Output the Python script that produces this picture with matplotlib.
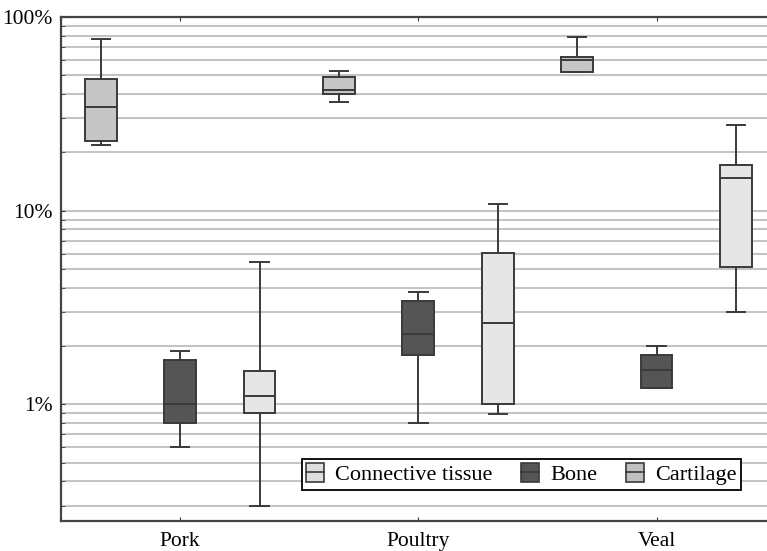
import matplotlib
matplotlib.use("Agg")
import matplotlib.pyplot as plt
from matplotlib.patches import Patch
from matplotlib.lines import Line2D
from matplotlib.ticker import LogLocator, FuncFormatter, NullFormatter

plt.rcParams["font.family"] = ["Liberation Serif", "DejaVu Serif"]

meats = ["Pork", "Poultry", "Veal"]
tissues = ["Connective tissue", "Bone", "Cartilage"]

# box statistics in percent, one list per tissue, ordered Pork / Poultry / Veal
connective_whislo = [21.8, 36.2, 51.8]
connective_q1     = [22.8, 40.0, 51.8]
connective_med    = [34.5, 42.1, 59.9]
connective_q3     = [47.6, 48.8, 62.4]
connective_whishi = [76.7, 52.8, 78.8]

bone_whislo = [0.60, 0.80, 1.21]
bone_q1     = [0.80, 1.80, 1.21]
bone_med    = [1.00, 2.30, 1.50]
bone_q3     = [1.70, 3.42, 1.79]
bone_whishi = [1.89, 3.80, 2.00]

cartilage_whislo = [0.30, 0.895, 3.01]
cartilage_q1     = [0.90, 1.00, 5.10]
cartilage_med    = [1.10, 2.62, 14.7]
cartilage_q3     = [1.49, 6.05, 17.2]
cartilage_whishi = [5.44, 10.8, 27.7]

box_colors = {"Connective tissue": "#c6c6c6", "Bone": "#555555", "Cartilage": "#e6e6e6"}
legend_colors = {"Connective tissue": "#dedede", "Bone": "#555555", "Cartilage": "#c0c0c0"}
edge = "#3a3a3a"

series = {
    "Connective tissue": (connective_whislo, connective_q1, connective_med, connective_q3, connective_whishi),
    "Bone": (bone_whislo, bone_q1, bone_med, bone_q3, bone_whishi),
    "Cartilage": (cartilage_whislo, cartilage_q1, cartilage_med, cartilage_q3, cartilage_whishi),
}

fig = plt.figure(figsize=(7.67, 5.51), dpi=100)
ax = fig.add_axes([61 / 767, 30 / 551, 1 - 61 / 767, (521 - 17) / 551])

for j, tissue in enumerate(tissues):
    lo, q1, med, q3, hi = series[tissue]
    stats = [dict(whislo=lo[i], q1=q1[i], med=med[i], q3=q3[i], whishi=hi[i], fliers=[])
             for i in range(len(meats))]
    positions = [3 * i + j for i in range(len(meats))]
    ax.bxp(stats, positions=positions, widths=0.4, capwidths=0.23,
           showfliers=False, patch_artist=True,
           boxprops=dict(facecolor=box_colors[tissue], edgecolor=edge, linewidth=1.4),
           medianprops=dict(color=edge, linewidth=1.4),
           whiskerprops=dict(color=edge, linewidth=1.4),
           capprops=dict(color=edge, linewidth=1.4),
           zorder=3)

ax.set_yscale("log")
ax.set_ylim(0.25, 100)
ax.set_xlim(-0.5, 8.39)

ax.yaxis.set_major_locator(LogLocator(base=10, numticks=10))
ax.yaxis.set_minor_locator(LogLocator(base=10, subs=range(2, 10), numticks=20))
ax.yaxis.set_major_formatter(FuncFormatter(lambda v, p: f"{v:g}%"))
ax.yaxis.set_minor_formatter(NullFormatter())
ax.grid(True, which="both", axis="y", color="#c4c4c4", linewidth=1.5, zorder=0)
ax.set_axisbelow(True)

ax.set_xticks([1, 4, 7])
ax.set_xticklabels(meats)
ax.tick_params(axis="both", which="both", direction="in", length=3, color=edge,
               labelsize=15.5, top=True)
ax.tick_params(axis="x", pad=8)
ax.tick_params(axis="y", pad=6)

for side in ["left", "top", "bottom"]:
    ax.spines[side].set_color("#444444")
    ax.spines[side].set_linewidth(1.6)
ax.spines["right"].set_visible(False)

handles = [(Patch(facecolor=legend_colors[t], edgecolor=edge, linewidth=1.2),
            Line2D([], [], color=edge, linewidth=1.2)) for t in tissues]
leg = ax.legend(handles, tissues, ncol=3, loc="upper right",
                bbox_to_anchor=(741 / 767, (551 - 459) / 551), bbox_transform=fig.transFigure,
                borderaxespad=0, fontsize=16, frameon=True, fancybox=False,
                handlelength=0.8, handleheight=0.9, handletextpad=0.5, columnspacing=1.3,
                borderpad=0.2)
leg.get_frame().set_edgecolor("black")
leg.get_frame().set_linewidth(1.3)
leg.get_frame().set_alpha(1)

fig.savefig("out.png", dpi=100)
